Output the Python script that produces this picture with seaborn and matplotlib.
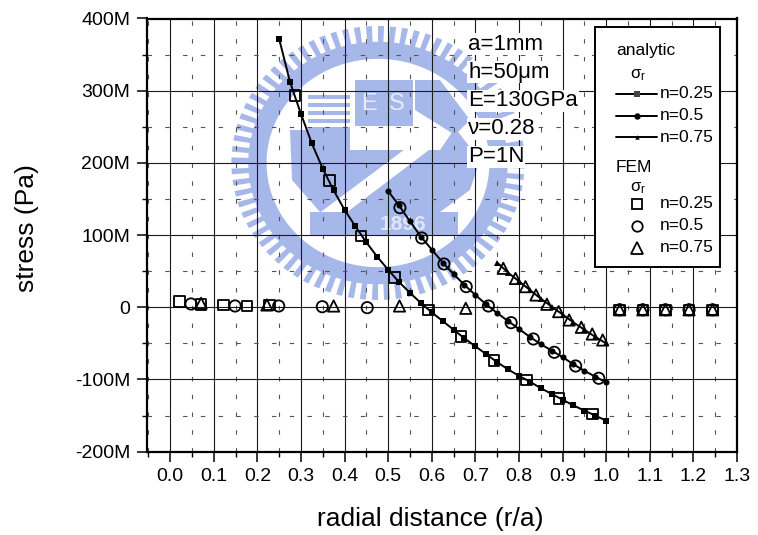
import numpy as np
import matplotlib
matplotlib.use("Agg")
import matplotlib.pyplot as plt
import seaborn as sns
from matplotlib.ticker import MultipleLocator, FuncFormatter
from matplotlib.patches import Rectangle, Polygon
from matplotlib.lines import Line2D

# ---- analytic radial stress sigma_r (MPa) versus r/a ----
r_an_025 = [0.250, 0.275, 0.300, 0.325, 0.350, 0.375, 0.400, 0.425, 0.450, 0.475,
            0.500, 0.525, 0.550, 0.575, 0.600, 0.625, 0.650, 0.675, 0.700, 0.725,
            0.750, 0.775, 0.800, 0.825, 0.850, 0.875, 0.900, 0.925, 0.950, 0.975, 1.000]
s_an_025 = [372, 312, 268, 227, 192, 162, 135, 112, 90, 70,
            52, 35, 20, 6, -7, -19, -31, -43, -54, -65,
            -76, -86, -95, -103, -112, -120, -128, -136, -143, -150, -157]

r_an_050 = [0.500, 0.525, 0.550, 0.575, 0.600, 0.625, 0.650, 0.675, 0.700, 0.725,
            0.750, 0.775, 0.800, 0.825, 0.850, 0.875, 0.900, 0.925, 0.950, 0.975, 1.000]
s_an_050 = [161, 141, 119, 98, 80, 62, 46, 31, 17, 4,
            -8, -19, -30, -41, -51, -60, -69, -79, -88, -96, -104]

r_an_075 = [0.750, 0.775, 0.800, 0.825, 0.850, 0.875, 0.900, 0.925, 0.950, 0.975, 1.000]
s_an_075 = [62, 48, 36, 24, 12, 1, -10, -21, -31, -41, -50]

# ---- FEM radial stress sigma_r (MPa) ----
r_fem_025 = [0.021, 0.071, 0.123, 0.176, 0.228, 0.286, 0.365, 0.438, 0.515, 0.592,
             0.667, 0.743, 0.817, 0.892, 0.968, 1.031, 1.084, 1.136, 1.190, 1.244]
s_fem_025 = [7.8, 3.5, 3.0, 2.0, 3.0, 293, 176, 99, 41.5, -3.7,
             -40.7, -74, -100.7, -126, -148, -3.5, -3.5, -3.5, -3.5, -3.5]

r_fem_050 = [0.048, 0.149, 0.249, 0.349, 0.452, 0.527, 0.577, 0.628, 0.679, 0.730,
             0.782, 0.833, 0.881, 0.930, 0.983, 1.031, 1.084, 1.136, 1.190, 1.244]
s_fem_050 = [4.6, 1.8, 1.8, 0.8, -0.5, 138, 96, 60, 28.6, 1.8,
             -21.3, -43.9, -62.3, -81.3, -98.3, -3.5, -3.5, -3.5, -3.5, -3.5]

r_fem_075 = [0.071, 0.222, 0.375, 0.526, 0.678, 0.764, 0.792, 0.815, 0.839, 0.864,
             0.891, 0.915, 0.943, 0.968, 0.992, 1.031, 1.084, 1.136, 1.190, 1.244]
s_fem_075 = [5.5, 3.2, 1.8, 1.8, -1.4, 54, 40, 28.6, 17, 4.2,
             -6, -17.6, -27.7, -37, -45.3, -3.5, -3.5, -3.5, -3.5, -3.5]

legend_labels = ["n=0.25", "n=0.5", "n=0.75"]
params_text = ["a=1mm", "h=50\u03bcm", "E=130GPa", "\u03bd=0.28", "P=1N"]

sns.set_style("ticks")
plt.rcParams["font.family"] = ["Liberation Sans", "DejaVu Sans"]
plt.rcParams["mathtext.fontset"] = "custom"
plt.rcParams["mathtext.rm"] = "Liberation Sans"
for key in ("text.color", "axes.labelcolor", "xtick.color", "ytick.color"):
    plt.rcParams[key] = "black"

W, H = 758, 535
fig = plt.figure(figsize=(W / 100, H / 100), dpi=100, facecolor="white")


def fpos(x, y):
    """pixel position (origin top-left) -> figure fraction"""
    return x / W, 1 - y / H


# ---- faint university seal in the background ----
wx0, wy0, wx1, wy1 = 220, 15, 540, 312
wax = fig.add_axes([wx0 / W, 1 - wy1 / H, (wx1 - wx0) / W, (wy1 - wy0) / H], zorder=0)
wax.set_xlim(wx0, wx1)
wax.set_ylim(wy1, wy0)
wax.axis("off")
blue = "#a6b7ea"
cx, cy, ry = 378, 163, 137
rx = ry * 1.07
t = np.linspace(0, 2 * np.pi, 361)


def ring(r_in, r_out):
    outer = np.column_stack([cx + rx * r_out * np.cos(t), cy + ry * r_out * np.sin(t)])
    inner = np.column_stack([cx + rx * r_in * np.cos(t[::-1]), cy + ry * r_in * np.sin(t[::-1])])
    return np.vstack([outer, inner])


wax.add_patch(Polygon(ring(0.76, 0.885), closed=True, fc=blue, ec="none"))
n_teeth = 76
for k in range(n_teeth):
    a0 = 2 * np.pi * k / n_teeth
    a1 = a0 + 0.5 * 2 * np.pi / n_teeth
    aa = np.linspace(a0, a1, 4)
    pts = np.vstack([
        np.column_stack([cx + rx * 0.88 * np.cos(aa), cy + ry * 0.88 * np.sin(aa)]),
        np.column_stack([cx + rx * 1.0 * np.cos(aa[::-1]), cy + ry * 1.0 * np.sin(aa[::-1])]),
    ])
    wax.add_patch(Polygon(pts, closed=True, fc=blue, ec="none"))
# inner emblem pieces
wax.add_patch(Polygon([[290, 130], [350, 130], [350, 150], [440, 150], [455, 128],
                       [480, 160], [470, 190], [440, 212], [320, 212], [292, 180]],
                      closed=True, fc=blue, ec="none"))
wax.add_patch(Polygon([[318, 214], [334, 222], [462, 125], [448, 117]], closed=True,
                      fc="white", ec="none"))
wax.add_patch(Rectangle((355, 80), 58, 46, fc=blue, ec="none"))
for i in range(5):
    wax.add_patch(Rectangle((308, 95 + 8 * i), 42, 4, fc=blue, ec="none"))
wax.add_patch(Polygon([[415, 80], [440, 80], [470, 120], [455, 135], [415, 110]],
                      closed=True, fc=blue, ec="none"))
wax.add_patch(Rectangle((310, 212), 148, 24, fc=blue, ec="none"))
wax.text(403, 224, "1896", color="#dfe6fa", fontsize=15, fontweight="bold",
         ha="center", va="center")
wax.text(369, 104, "E", color="#e5ebfb", fontsize=17, ha="center", va="center")
wax.text(397, 104, "S", color="#e5ebfb", fontsize=17, ha="center", va="center")

# ---- main axes ----
ax = fig.add_axes([147 / W, 1 - 451.7 / H, 590 / W, 433.2 / H], zorder=1)
ax.patch.set_alpha(0)

line_kw = dict(ax=ax, color="black", linewidth=1.4, sort=False, estimator=None,
               markeredgewidth=0, zorder=3)
sns.lineplot(x=r_an_025, y=s_an_025, marker="s", markersize=3.8, **line_kw)
sns.lineplot(x=r_an_050, y=s_an_050, marker="o", markersize=4.4, **line_kw)
sns.lineplot(x=r_an_075, y=s_an_075, marker="^", markersize=3.8, **line_kw)

sc_kw = dict(ax=ax, facecolors="none", edgecolor="black", linewidth=1.3, zorder=4)
sns.scatterplot(x=r_fem_025, y=s_fem_025, marker="s", s=58, **sc_kw)
sns.scatterplot(x=r_fem_050, y=s_fem_050, marker="o", s=66, **sc_kw)
sns.scatterplot(x=r_fem_075, y=s_fem_075, marker="^", s=66, **sc_kw)

ax.set_xlim(-0.053, 1.3)
ax.set_ylim(-200, 400)
ax.xaxis.set_major_locator(MultipleLocator(0.1))
ax.xaxis.set_minor_locator(MultipleLocator(0.05))
ax.yaxis.set_major_locator(MultipleLocator(100))
ax.yaxis.set_minor_locator(MultipleLocator(50))
ax.xaxis.set_major_formatter(FuncFormatter(lambda v, _: f"{v:.1f}"))
ax.yaxis.set_major_formatter(FuncFormatter(lambda v, _: "0" if abs(v) < 1e-9 else f"{int(round(v))}M"))

ax.set_axisbelow(True)
ax.grid(which="major", color="#1a1a1a", linewidth=0.8, linestyle="-")
ax.grid(which="minor", color="#555555", linewidth=0.8, linestyle=(0, (4, 12)))

for sp in ax.spines.values():
    sp.set_linewidth(1.6)
    sp.set_color("black")
ax.tick_params(which="major", direction="out", length=7, width=1.1, labelsize=14,
               pad=5, colors="black")
ax.tick_params(which="minor", direction="out", length=3.5, width=1.0, colors="black")

ax.set_xlabel("radial distance (r/a)", fontsize=19, color="black")
ax.set_ylabel("stress (Pa)", fontsize=19, color="black")
ax.xaxis.label.set_va("center")
ax.yaxis.label.set_va("center")
ax.xaxis.set_label_coords((430 - 147) / 590, (451.7 - 519) / 433.2)
ax.yaxis.set_label_coords((27 - 147) / 590, (451.7 - 228) / 433.2)

# ---- parameter block ----
for txt, yy in zip(params_text, [44, 72, 101, 129, 157]):
    x, y = fpos(468, yy)
    fig.text(x, y, txt, fontsize=16, ha="left", va="center", zorder=6,
             bbox=dict(facecolor="white", edgecolor="none", pad=0.6))

# ---- legend box ----
bx0, by0, bx1, by1 = 595, 27, 720, 267
x0, y0 = fpos(bx0, by1)
fig.add_artist(Rectangle((x0, y0), (bx1 - bx0) / W, (by1 - by0) / H,
                         transform=fig.transFigure, fc="white", ec="black",
                         lw=1.4, zorder=10))


def ftext(x, y, s, size=12.5, **kw):
    fx, fy = fpos(x, y)
    fig.text(fx, fy, s, fontsize=size, zorder=11, **kw)


ftext(616, 50, "analytic", ha="left", va="center")
ftext(616, 168, "FEM", ha="left", va="center")
for yy in (75, 188):
    ftext(630, yy, r"$\mathregular{\sigma_r}$", size=12, ha="left", va="center")

an_markers = [("s", 4.0, "#444444"), ("o", 4.6, "black"), ("^", 3.2, "black")]
for (mk, ms, mc), lab, yy in zip(an_markers, legend_labels, [94, 116, 137]):
    (lx0, ly), (lx1, _) = fpos(616, yy), fpos(657, yy)
    fig.add_artist(Line2D([lx0, lx1], [ly, ly], transform=fig.transFigure,
                          color="black", lw=1.4, zorder=11))
    mx, my = fpos(636.5, yy)
    fig.add_artist(Line2D([mx], [my], transform=fig.transFigure, marker=mk,
                          markersize=ms, color=mc, markeredgewidth=0, zorder=12))
    ftext(660, yy, lab, ha="left", va="center")

fem_markers = [("s", 7.0), ("o", 7.5), ("^", 8.0)]
for (mk, ms), lab, yy in zip(fem_markers, legend_labels, [204, 226, 248]):
    mx, my = fpos(637, yy)
    fig.add_artist(Line2D([mx], [my], transform=fig.transFigure, marker=mk,
                          markersize=ms, markerfacecolor="none",
                          markeredgecolor="black", markeredgewidth=1.3,
                          linestyle="none", zorder=12))
    ftext(660, yy, lab, ha="left", va="center")

fig.savefig("out.png", dpi=100, facecolor="white")
